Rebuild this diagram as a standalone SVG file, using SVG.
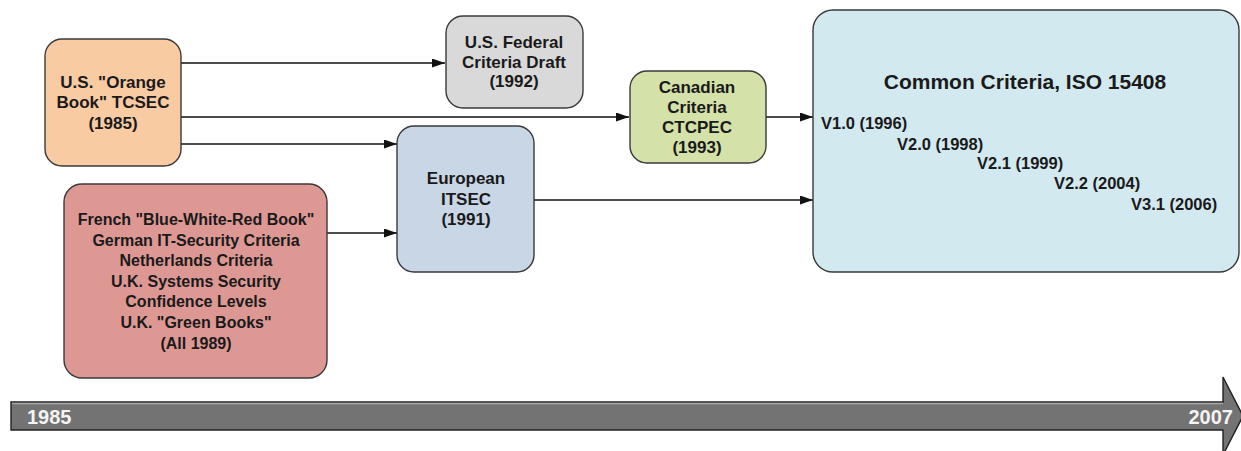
<svg xmlns="http://www.w3.org/2000/svg" width="1241" height="451" viewBox="0 0 1241 451">
<defs>
<style>
.box{stroke:#3a3a3a;stroke-width:1.4}
.t{font-family:"Liberation Sans",Arial,sans-serif;font-weight:bold;font-size:17px;fill:#1a1a1a;text-anchor:middle}
.r{font-size:16px}
.v{font-family:"Liberation Sans",Arial,sans-serif;font-weight:bold;font-size:16.5px;fill:#1a1a1a}
.c{stroke:#111;stroke-width:1.6;fill:none;marker-end:url(#ah)}
.tl{font-family:"Liberation Sans",Arial,sans-serif;font-weight:bold;font-size:20px;fill:#f4f4f4}
</style>
<marker id="ah" viewBox="0 0 10 10" refX="10" refY="5" markerWidth="13" markerHeight="9" markerUnits="userSpaceOnUse" orient="auto" preserveAspectRatio="none">
<path d="M0,0 L10,5 L0,10 z" fill="#111"/>
</marker>
</defs>
<rect width="1241" height="451" fill="#ffffff"/>

<g id="connectors">
<line class="c" x1="181" y1="63" x2="445" y2="63"/>
<line class="c" x1="181" y1="117" x2="629" y2="117"/>
<line class="c" x1="181" y1="144" x2="397" y2="144"/>
<line class="c" x1="327" y1="233" x2="397" y2="233"/>
<line class="c" x1="534" y1="200" x2="813" y2="200"/>
<line class="c" x1="766" y1="117" x2="813" y2="117"/>
</g>

<g id="orange">
<rect class="box" x="45" y="39" width="136" height="127" rx="17" fill="#f9cba3"/>
<text class="t" x="113" y="88">U.S. "Orange</text>
<text class="t" x="113" y="108">Book" TCSEC</text>
<text class="t" x="113" y="129">(1985)</text>
</g>

<g id="federal">
<rect class="box" x="446" y="16" width="137" height="92" rx="17" fill="#d9d9d9"/>
<text class="t" x="514" y="48">U.S. Federal</text>
<text class="t" x="514" y="68">Criteria Draft</text>
<text class="t" x="514" y="87">(1992)</text>
</g>

<g id="canadian">
<rect class="box" x="630" y="71" width="136" height="92" rx="17" fill="#d4e1a9"/>
<text class="t" x="697" y="93">Canadian</text>
<text class="t" x="697" y="113">Criteria</text>
<text class="t" x="697" y="133">CTCPEC</text>
<text class="t" x="697" y="153">(1993)</text>
</g>

<g id="european">
<rect class="box" x="397" y="126" width="137" height="146" rx="17" fill="#c9d6e6"/>
<text class="t" x="466" y="184">European</text>
<text class="t" x="466" y="205">ITSEC</text>
<text class="t" x="466" y="225">(1991)</text>
</g>

<g id="red">
<rect class="box" x="64" y="184" width="263" height="194" rx="18" fill="#dd9894"/>
<text class="t r" x="196" y="225">French "Blue-White-Red Book"</text>
<text class="t r" x="196" y="246">German IT-Security Criteria</text>
<text class="t r" x="196" y="266">Netherlands Criteria</text>
<text class="t r" x="196" y="287">U.K. Systems Security</text>
<text class="t r" x="196" y="307">Confidence Levels</text>
<text class="t r" x="196" y="328">U.K. "Green Books"</text>
<text class="t r" x="196" y="349">(All 1989)</text>
</g>

<g id="common">
<rect class="box" x="813" y="10" width="426" height="262" rx="20" fill="#d3e9f0"/>
<text class="t" style="font-size:21px" x="1025" y="89">Common Criteria, ISO 15408</text>
<text class="v" x="821" y="129">V1.0 (1996)</text>
<text class="v" x="897" y="150">V2.0 (1998)</text>
<text class="v" x="977" y="169">V2.1 (1999)</text>
<text class="v" x="1054" y="189">V2.2 (2004)</text>
<text class="v" x="1131" y="210">V3.1 (2006)</text>
</g>

<g id="timeline">
<path d="M11,402 L1223,402 L1223,377 L1243,416 L1223,455 L1223,430 L11,430 Z" fill="#737373" stroke="#222" stroke-width="1.4"/>
<line x1="12" y1="403.5" x2="1223" y2="403.5" stroke="#a8a8a8" stroke-width="1.5"/>
<text class="tl" x="27" y="424">1985</text>
<text class="tl" x="1233" y="424" text-anchor="end">2007</text>
</g>
</svg>
